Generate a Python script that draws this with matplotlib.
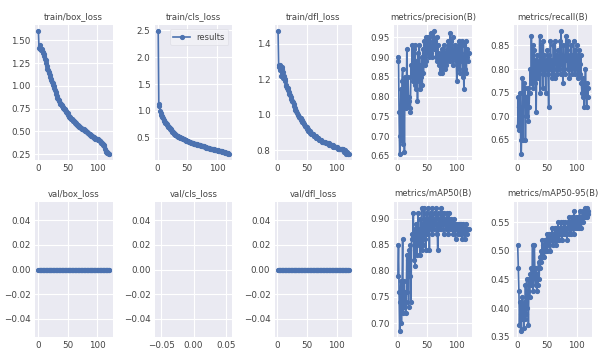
"""
YOLO training results grid (train / val losses and metrics per epoch)
"""

import matplotlib.pyplot as plt
import numpy as np

# epochs 1..120
epochs = list(range(1, 121))

train_box_loss = [
    1.60, 1.42, 1.40, 1.45, 1.41, 1.39, 1.40, 1.36, 1.37, 1.35,
    1.33, 1.30, 1.28, 1.25, 1.22, 1.18, 1.17, 1.15, 1.14, 1.12,
    1.10, 1.08, 1.06, 1.04, 1.03, 1.01, 1.00, 0.98, 0.95, 0.93,
    0.91, 0.89, 0.87, 0.85, 0.84, 0.83, 0.81, 0.80, 0.80, 0.78,
    0.79, 0.77, 0.76, 0.75, 0.74, 0.73, 0.72, 0.71, 0.70, 0.70,
    0.68, 0.67, 0.66, 0.66, 0.65, 0.64, 0.63, 0.63, 0.62, 0.61,
    0.61, 0.60, 0.59, 0.59, 0.58, 0.57, 0.57, 0.56, 0.56, 0.55,
    0.55, 0.54, 0.54, 0.53, 0.53, 0.52, 0.52, 0.51, 0.51, 0.50,
    0.50, 0.49, 0.49, 0.48, 0.48, 0.47, 0.47, 0.46, 0.46, 0.45,
    0.45, 0.45, 0.44, 0.44, 0.43, 0.43, 0.42, 0.42, 0.42, 0.41,
    0.41, 0.40, 0.40, 0.39, 0.39, 0.38, 0.37, 0.37, 0.36, 0.35,
    0.35, 0.34, 0.31, 0.28, 0.27, 0.27, 0.26, 0.26, 0.25, 0.25]

train_cls_loss = [
    2.48, 1.10, 1.12, 1.00, 0.96, 0.93, 0.90, 0.88, 0.86, 0.84,
    0.82, 0.80, 0.78, 0.77, 0.75, 0.74, 0.72, 0.71, 0.70, 0.69,
    0.67, 0.66, 0.64, 0.63, 0.61, 0.60, 0.59, 0.58, 0.57, 0.56,
    0.55, 0.54, 0.53, 0.53, 0.52, 0.51, 0.51, 0.50, 0.50, 0.49,
    0.49, 0.48, 0.48, 0.47, 0.47, 0.46, 0.46, 0.45, 0.45, 0.44,
    0.44, 0.43, 0.43, 0.42, 0.42, 0.41, 0.41, 0.41, 0.40, 0.40,
    0.39, 0.39, 0.39, 0.38, 0.38, 0.38, 0.37, 0.37, 0.37, 0.36,
    0.36, 0.36, 0.35, 0.35, 0.35, 0.34, 0.34, 0.34, 0.33, 0.33,
    0.33, 0.32, 0.32, 0.32, 0.31, 0.31, 0.31, 0.30, 0.30, 0.30,
    0.30, 0.29, 0.29, 0.29, 0.28, 0.28, 0.28, 0.28, 0.27, 0.27,
    0.27, 0.26, 0.26, 0.26, 0.25, 0.25, 0.25, 0.25, 0.24, 0.24,
    0.24, 0.23, 0.23, 0.22, 0.22, 0.21, 0.21, 0.21, 0.20, 0.20]

train_dfl_loss = [
    1.47, 1.28, 1.27, 1.25, 1.28, 1.22, 1.26, 1.27, 1.21, 1.24,
    1.22, 1.20, 1.19, 1.17, 1.16, 1.15, 1.15, 1.14, 1.13, 1.12,
    1.11, 1.10, 1.09, 1.08, 1.08, 1.07, 1.06, 1.05, 1.04, 1.03,
    1.02, 1.02, 1.01, 1.00, 1.00, 0.99, 0.99, 0.98, 0.98, 0.97,
    0.97, 0.96, 0.96, 0.95, 0.95, 0.94, 0.94, 0.93, 0.93, 0.92,
    0.92, 0.91, 0.91, 0.91, 0.90, 0.90, 0.89, 0.89, 0.89, 0.89,
    0.88, 0.88, 0.88, 0.88, 0.87, 0.87, 0.87, 0.87, 0.87, 0.86,
    0.86, 0.86, 0.86, 0.86, 0.85, 0.85, 0.85, 0.85, 0.85, 0.85,
    0.84, 0.84, 0.84, 0.84, 0.84, 0.84, 0.83, 0.83, 0.83, 0.83,
    0.83, 0.83, 0.83, 0.82, 0.82, 0.82, 0.82, 0.82, 0.82, 0.82,
    0.82, 0.81, 0.81, 0.81, 0.81, 0.81, 0.81, 0.81, 0.81, 0.81,
    0.80, 0.79, 0.79, 0.80, 0.79, 0.78, 0.79, 0.78, 0.78, 0.78]

precision = [
    0.89, 0.90, 0.76, 0.655, 0.70, 0.82, 0.69, 0.84, 0.87, 0.68,
    0.83, 0.66, 0.85, 0.79, 0.77, 0.92, 0.78, 0.85, 0.80, 0.79,
    0.77, 0.76, 0.88, 0.85, 0.93, 0.86, 0.84, 0.92, 0.83, 0.93,
    0.87, 0.82, 0.89, 0.79, 0.91, 0.84, 0.93, 0.82, 0.88, 0.85,
    0.90, 0.83, 0.92, 0.86, 0.94, 0.88, 0.91, 0.95, 0.89, 0.93,
    0.91, 0.95, 0.90, 0.94, 0.92, 0.96, 0.91, 0.93, 0.90, 0.95,
    0.92, 0.965, 0.93, 0.94, 0.90, 0.95, 0.89, 0.93, 0.91, 0.88,
    0.90, 0.86, 0.91, 0.87, 0.92, 0.86, 0.90, 0.88, 0.93, 0.87,
    0.91, 0.88, 0.92, 0.89, 0.94, 0.90, 0.93, 0.89, 0.96, 0.91,
    0.94, 0.90, 0.95, 0.88, 0.92, 0.90, 0.93, 0.89, 0.91, 0.84,
    0.92, 0.88, 0.94, 0.87, 0.93, 0.86, 0.91, 0.89, 0.94, 0.85,
    0.90, 0.82, 0.93, 0.87, 0.94, 0.86, 0.90, 0.92, 0.89, 0.91]

recall = [
    0.68, 0.74, 0.67, 0.72, 0.75, 0.65, 0.62, 0.70, 0.78, 0.65,
    0.77, 0.73, 0.76, 0.65, 0.74, 0.70, 0.73, 0.76, 0.69, 0.72,
    0.75, 0.80, 0.77, 0.87, 0.78, 0.85, 0.76, 0.81, 0.84, 0.77,
    0.82, 0.71, 0.80, 0.83, 0.78, 0.81, 0.79, 0.87, 0.75, 0.85,
    0.80, 0.82, 0.76, 0.86, 0.79, 0.83, 0.81, 0.75, 0.82, 0.80,
    0.84, 0.79, 0.72, 0.83, 0.80, 0.86, 0.82, 0.78, 0.81, 0.79,
    0.85, 0.80, 0.78, 0.86, 0.81, 0.83, 0.79, 0.84, 0.80, 0.82,
    0.80, 0.86, 0.79, 0.88, 0.81, 0.83, 0.77, 0.85, 0.80, 0.82,
    0.79, 0.87, 0.82, 0.84, 0.80, 0.86, 0.81, 0.78, 0.83, 0.80,
    0.85, 0.79, 0.83, 0.81, 0.86, 0.80, 0.84, 0.79, 0.82, 0.85,
    0.80, 0.83, 0.78, 0.84, 0.81, 0.79, 0.83, 0.77, 0.75, 0.78,
    0.74, 0.77, 0.72, 0.76, 0.80, 0.75, 0.72, 0.77, 0.74, 0.76]

map50 = [
    0.79, 0.85, 0.76, 0.685, 0.74, 0.78, 0.70, 0.77, 0.86, 0.72,
    0.78, 0.73, 0.76, 0.72, 0.74, 0.83, 0.76, 0.82, 0.73, 0.84,
    0.79, 0.85, 0.74, 0.86, 0.87, 0.86, 0.91, 0.82, 0.88, 0.81,
    0.86, 0.89, 0.83, 0.87, 0.91, 0.85, 0.88, 0.83, 0.90, 0.86,
    0.92, 0.84, 0.89, 0.85, 0.92, 0.86, 0.90, 0.84, 0.91, 0.87,
    0.92, 0.88, 0.90, 0.84, 0.91, 0.89, 0.88, 0.92, 0.87, 0.90,
    0.91, 0.88, 0.90, 0.89, 0.92, 0.87, 0.89, 0.84, 0.91, 0.88,
    0.90, 0.89, 0.92, 0.88, 0.91, 0.89, 0.90, 0.87, 0.91, 0.89,
    0.90, 0.88, 0.91, 0.89, 0.90, 0.87, 0.91, 0.88, 0.90, 0.89,
    0.90, 0.88, 0.89, 0.87, 0.90, 0.88, 0.89, 0.86, 0.89, 0.88,
    0.89, 0.87, 0.89, 0.88, 0.89, 0.87, 0.88, 0.89, 0.86, 0.88,
    0.89, 0.87, 0.88, 0.86, 0.89, 0.88, 0.87, 0.88, 0.88, 0.88]

map50_95 = [
    0.51, 0.47, 0.43, 0.37, 0.41, 0.36, 0.39, 0.42, 0.38, 0.40,
    0.365, 0.41, 0.38, 0.44, 0.39, 0.45, 0.40, 0.43, 0.37, 0.45,
    0.42, 0.46, 0.44, 0.47, 0.45, 0.51, 0.43, 0.47, 0.51, 0.46,
    0.44, 0.47, 0.43, 0.46, 0.44, 0.48, 0.45, 0.49, 0.47, 0.50,
    0.48, 0.52, 0.49, 0.51, 0.50, 0.49, 0.52, 0.50, 0.51, 0.53,
    0.50, 0.52, 0.51, 0.53, 0.52, 0.50, 0.53, 0.52, 0.54, 0.51,
    0.53, 0.52, 0.54, 0.53, 0.51, 0.54, 0.52, 0.53, 0.55, 0.53,
    0.52, 0.54, 0.53, 0.55, 0.52, 0.54, 0.53, 0.55, 0.54, 0.53,
    0.55, 0.53, 0.54, 0.52, 0.55, 0.54, 0.56, 0.53, 0.55, 0.54,
    0.53, 0.56, 0.54, 0.55, 0.53, 0.57, 0.55, 0.54, 0.56, 0.55,
    0.54, 0.55, 0.56, 0.54, 0.57, 0.55, 0.56, 0.54, 0.56, 0.57,
    0.55, 0.57, 0.56, 0.575, 0.56, 0.57, 0.56, 0.575, 0.57, 0.565]

# val losses were logged as 0 (box, dfl) and missing (cls)
val_box_loss = [0.0] * len(epochs)
val_cls_loss = [np.nan] * len(epochs)
val_dfl_loss = [0.0] * len(epochs)

titles = ['train/box_loss', 'train/cls_loss', 'train/dfl_loss',
          'metrics/precision(B)', 'metrics/recall(B)',
          'val/box_loss', 'val/cls_loss', 'val/dfl_loss',
          'metrics/mAP50(B)', 'metrics/mAP50-95(B)']
series = [train_box_loss, train_cls_loss, train_dfl_loss, precision, recall,
          val_box_loss, val_cls_loss, val_dfl_loss, map50, map50_95]

plt.rcParams['font.family'] = 'DejaVu Sans'
plt.rcParams['font.size'] = 6.3

fig, axes = plt.subplots(2, 5, figsize=(6.01, 3.54), dpi=100)
fig.subplots_adjust(left=0.058, right=0.985, top=0.929, bottom=0.048,
                    wspace=0.54, hspace=0.31)

for i, ax in enumerate(axes.ravel()):
    y = series[i]
    ax.set_facecolor('#EAEAF2')
    for s in ax.spines.values():
        s.set_visible(False)
    ax.grid(True, color='white', linewidth=0.8)
    ax.set_axisbelow(True)
    ax.tick_params(length=0, pad=3, labelsize=6.3, colors='#444444')
    ax.plot(epochs, y, marker='.', color='#4C72B0', linewidth=1.2,
            markersize=5.5, label='results')
    if all(np.isnan(v) for v in y):
        ax.set_xlim(-0.06, 0.06)
        ax.set_ylim(-0.055, 0.055)
        ax.set_xticks([-0.05, 0.0, 0.05])
        ax.set_yticks([-0.04, -0.02, 0.0, 0.02, 0.04])
    else:
        ax.set_xticks([0, 50, 100])
    ax.set_title(titles[i], fontsize=6.1, color='#444444', pad=4)

leg = axes[0, 1].legend(loc='upper right', fontsize=6, frameon=True,
                        handlelength=2.0, borderpad=0.4)
leg.get_frame().set_facecolor('#F2F2F7')
leg.get_frame().set_edgecolor('#DDDDE5')
leg.get_frame().set_linewidth(0.6)
for t in leg.get_texts():
    t.set_color('#444444')

plt.savefig('out.png', dpi=100)
